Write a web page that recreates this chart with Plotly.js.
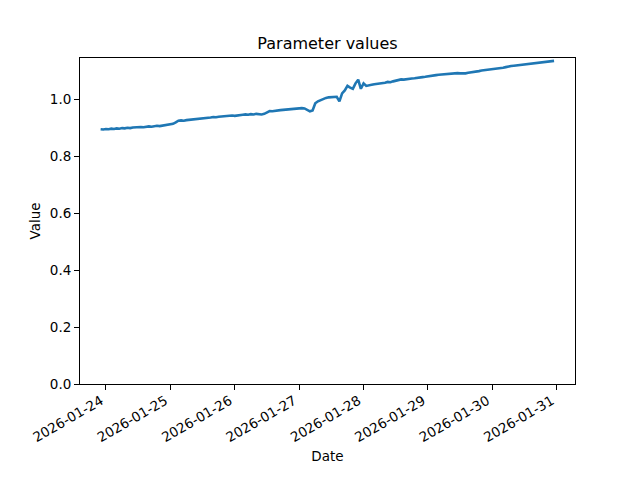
<!DOCTYPE html>
<html>
<head>
<meta charset="utf-8">
<script src="https://cdn.plot.ly/plotly-3.0.1.min.js"></script>
<style>html,body{margin:0;padding:0;background:#fff;}#chart{width:640px;height:480px;}</style>
</head>
<body>
<div id="chart"></div>
<script>
// Hourly samples starting 2026-01-23 22:00
const startTime = "2026-01-23T22:00:00";
const stepHours = 1;
const values = [
  0.894,0.893,0.895,0.894,0.896,0.895,0.897,0.896,0.898,0.897,0.899,0.898,0.900,
  0.901,0.900,0.902,0.901,0.903,0.904,0.903,0.905,0.906,0.905,0.907,0.908,
  0.909,0.911,0.913,0.918,0.924,
  0.925,0.924,0.926,0.927,0.926,0.928,0.929,0.930,0.931,0.932,0.934,0.935,0.937,
  0.936,0.938,0.939,0.938,0.940,0.941,0.942,0.941,0.943,0.944,0.945,0.946,
  0.945,0.947,0.946,0.948,0.947,0.946,0.948,
  0.953,0.958,
  0.957,0.959,0.960,0.961,0.962,0.963,0.962,0.964,0.966,
  0.967,0.966,0.968,0.967,
  0.963,0.957,0.960,
  0.985,0.992,
  0.997,1.001,1.004,1.006,1.007,1.009,1.008,0.992,
  1.020,1.030,1.046,1.040,1.036,1.055,1.068,1.036,1.055,1.046,
  1.049,1.050,1.052,1.053,1.055,1.054,1.057,1.060,1.059,1.062,1.064,1.066,1.069,
  1.068,1.070,1.071,1.072,1.073,1.075,1.076,1.077,1.078,1.080,1.081,1.083,
  1.084,1.085,1.086,1.087,1.088,1.089,
  1.090,1.089,1.091,1.090,1.089,1.090,
  1.092,1.093,1.095,1.097,1.098,1.100,1.101,1.103,
  1.104,1.105,1.106,1.107,1.108,1.110,1.112,1.115,
  1.116,1.117,1.118,1.120,1.122,1.121,1.123,1.124,1.126,1.127,
  1.128,1.129,1.130,1.131,1.132,1.133,1.134
];
const tickDates = ["2026-01-24","2026-01-25","2026-01-26","2026-01-27","2026-01-28","2026-01-29","2026-01-30","2026-01-31"];
const yTicks = [0.0,0.2,0.4,0.6,0.8,1.0];

function pad(n){return (n<10?"0":"")+n;}
const t0 = new Date(startTime + "Z").getTime();
const dates = values.map((_, i) => {
  const d = new Date(t0 + i*stepHours*3600000);
  return d.getUTCFullYear()+"-"+pad(d.getUTCMonth()+1)+"-"+pad(d.getUTCDate())+" "+pad(d.getUTCHours())+":00";
});

const font = {family: "DejaVu Sans, sans-serif", size: 13.5, color: "#000"};
const trace = {
  x: dates, y: values, type: "scatter", mode: "lines",
  line: {color: "#1f77b4", width: 2.6}, hoverinfo: "skip"
};
const axisCommon = {
  showline: true, linecolor: "#000", linewidth: 1, mirror: true,
  showgrid: false, zeroline: false, ticks: "outside", ticklen: 5, tickwidth: 1,
  tickcolor: "#000", tickfont: font
};
const layout = {
  width: 640, height: 480,
  margin: {l: 80, r: 65, t: 58, b: 96},
  paper_bgcolor: "#fff", plot_bgcolor: "#fff",
  showlegend: false,
  font: font,
  title: {text: "Parameter values", font: {family: "DejaVu Sans, sans-serif", size: 16, color: "#000"}, xref: "paper", x: 0.5, xanchor: "center", y: 0.91, yanchor: "middle"},
  xaxis: Object.assign({}, axisCommon, {
    type: "date",
    range: ["2026-01-23 14:19", "2026-01-31 06:48"],
    tickmode: "array", tickvals: tickDates, ticktext: tickDates,
    tickangle: -30,
    ticklabelshift: -5,
    ticklabelstandoff: -2,
    title: {text: "Date", font: font, standoff: 7}
  }),
  yaxis: Object.assign({}, axisCommon, {
    range: [0, 1.144],
    tickmode: "array", tickvals: yTicks, ticktext: yTicks.map(v => v.toFixed(1)),
    title: {text: "Value", font: font, standoff: 6}
  })
};
Plotly.newPlot("chart", [trace], layout, {staticPlot: true, displayModeBar: false});
</script>
</body>
</html>
